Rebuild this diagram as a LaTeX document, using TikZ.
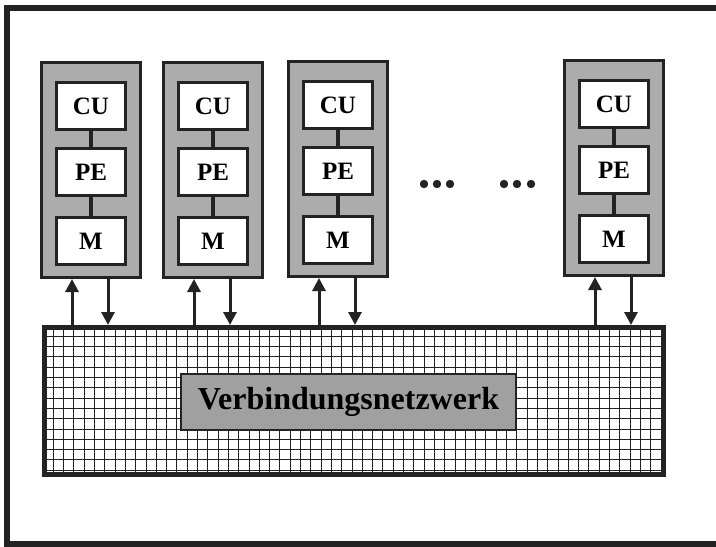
\documentclass[tikz,border=0pt]{standalone}
\usepackage{fontspec}
\setmainfont{Liberation Serif}
\usetikzlibrary{arrows.meta,calc}
\definecolor{boxgray}{RGB}{172,172,172}
\definecolor{labgray}{RGB}{160,160,160}
\definecolor{ink}{RGB}{35,35,35}
\tikzset{
  colbox/.style={draw=ink,line width=3pt,fill=boxgray,minimum width=99pt,minimum height=215pt,inner sep=0pt},
  unitbox/.style={draw=ink,line width=2.5pt,fill=white,minimum width=69pt,minimum height=47pt,inner sep=0pt,font=\bfseries\fontsize{25}{25}\selectfont},
  link/.style={draw=ink,line width=4pt},
  busarrow/.style={draw=ink,line width=3pt,-{Triangle[width=13pt,length=13pt]}},
  gridline/.style={draw=ink,line width=0.9pt},
}
\begin{document}
\begin{tikzpicture}[x=1pt,y=-1pt]
\useasboundingbox (0,0) rectangle (716,547);
% outer frame
\draw[ink,line width=5.5pt] (722,8) -- (7,8) -- (7,544) -- (722,544);
% bus
\node[draw=ink,line width=5pt,fill=white,minimum width=619pt,minimum height=147pt,inner sep=0pt] (bus) at (354,401) {};
\begin{scope}
\clip ([xshift=2.5pt,yshift=-2.5pt]bus.north west) rectangle ([xshift=-2.5pt,yshift=2.5pt]bus.south east);
\foreach \i in {0,...,61} {\draw[gridline] (43+\i*10.3,320) -- (43+\i*10.3,480);}
\foreach \j in {0,...,15} {\draw[gridline] (40,326+\j*10.3) -- (670,326+\j*10.3);}
\end{scope}
\node[draw=ink,line width=5pt,minimum width=619pt,minimum height=147pt,inner sep=0pt] at (bus.center) {};
\node[draw=ink,line width=2.5pt,fill=labgray,minimum width=335pt,minimum height=56pt,inner sep=0pt,font=\bfseries\fontsize{32}{32}\selectfont] (lab) at (348.5,402) {Verbindungsnetzwerk};
% columns
\foreach \n/\x/\t in {1/40/61,2/162/61,3/287/60,4/563/59} {
  \node[colbox,anchor=north west] (c\n) at (\x,\t) {};
  \node[unitbox] (cu\n) at ($(c\n.north)+(0,45)$) {CU};
  \node[unitbox] (pe\n) at ($(c\n.north)+(0,111)$) {PE};
  \node[unitbox] (m\n) at ($(c\n.north)+(0,180)$) {M};
  \draw[link] (cu\n.south) -- (pe\n.north);
  \draw[link] (pe\n.south) -- (m\n.north);
  \draw[busarrow] ([xshift=32pt]c\n.south west |- bus.north) -- ([xshift=32pt]c\n.south west);
  \draw[busarrow] ([xshift=68pt]c\n.south west) -- ([xshift=68pt]c\n.south west |- bus.north);
}
% dots
\foreach \x in {424,437,450,504,517,531} {\fill[ink] (\x,184) circle (4.2pt);}
\end{tikzpicture}
\end{document}
